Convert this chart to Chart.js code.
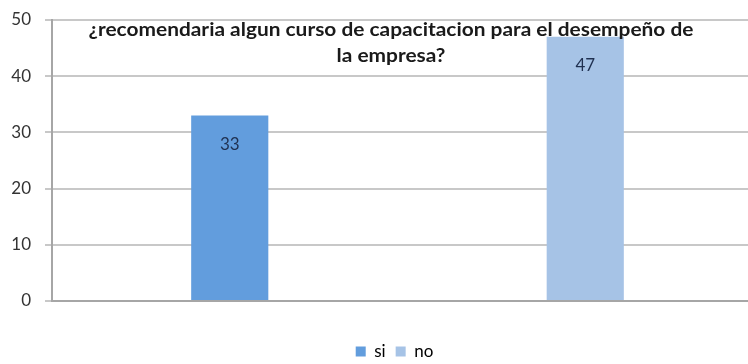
<!DOCTYPE html>
<html>
<head>
<meta charset="utf-8">
<script src="https://cdn.jsdelivr.net/npm/chart.js@4"></script>
<style>
  html, body { margin: 0; padding: 0; background: #fff; overflow: hidden; }
  #wrap { width: 763px; height: 364px; }
</style>
</head>
<body>
<div id="wrap"><canvas id="grafic"></canvas></div>
<script>
// date grafic
const categorii = ["si", "no"];
const valori = [33, 47];
const culori = ["#629ddd", "#a6c3e6"];
const titlu = ["¿recomendaria algun curso de capacitacion para el desempeño de", "la empresa?"];
const ticksY = [0, 10, 20, 30, 40, 50];

// titlul desenat peste zona graficului (usor latit, ca in imagine)
const titluPlugin = {
  id: "titluPeste",
  afterDraw(chart) {
    const ctx = chart.ctx;
    ctx.save();
    ctx.translate(391, 0);
    ctx.scale(1.16, 1);
    ctx.font = "bold 18px Lato, sans-serif";
    ctx.fillStyle = "#1a1a1a";
    ctx.textAlign = "center";
    ctx.textBaseline = "alphabetic";
    ctx.fillText(titlu[0], 0, 36);
    ctx.fillText(titlu[1], 0, 62);
    ctx.restore();
  }
};

// etichete valori in bare
const eticheta = {
  id: "etichete",
  afterDatasetsDraw(chart) {
    const ctx = chart.ctx;
    const meta = chart.getDatasetMeta(0);
    ctx.save();
    ctx.font = "17px Lato, sans-serif";
    ctx.fillStyle = "#1f3050";
    ctx.textAlign = "center";
    ctx.textBaseline = "middle";
    meta.data.forEach((bar, i) => {
      ctx.fillText(String(valori[i]), bar.x, bar.y + 29);
    });
    ctx.restore();
  }
};

// legenda mutata putin spre dreapta, ca in original
const mutaLegenda = {
  id: "mutaLegenda",
  afterLayout(chart) {
    chart.legend.left += 13;
    chart.legend.right += 13;
  }
};

new Chart(document.getElementById("grafic").getContext("2d"), {
  type: "bar",
  data: {
    labels: categorii,
    datasets: [{
      data: valori,
      backgroundColor: culori,
      borderWidth: 0,
      categoryPercentage: 1,
      barPercentage: 0.217
    }]
  },
  plugins: [eticheta, titluPlugin, mutaLegenda],
  options: {
    responsive: true,
    maintainAspectRatio: false,
    animation: false,
    layout: { padding: { left: 0, right: 0, top: 20, bottom: -6 } },
    plugins: {
      title: { display: false },
      tooltip: { enabled: false },
      legend: {
        position: "bottom",
        labels: {
          boxWidth: 10,
          boxHeight: 10,
          padding: 10,
          color: "#333",
          font: { size: 17, family: "Lato, sans-serif" },
          generateLabels: () => categorii.map((c, i) => ({
            text: c, fillStyle: culori[i], strokeStyle: culori[i], lineWidth: 0, index: i
          }))
        }
      }
    },
    scales: {
      x: {
        afterFit: (s) => { s.height = 32; },
        ticks: { display: false },
        grid: { display: false },
        border: { color: "#a6a6a6", width: 2 }
      },
      y: {
        min: 0,
        max: 50,
        afterFit: (s) => { s.width = 52; s.paddingTop = 0; s.paddingBottom = 0; },
        afterBuildTicks: (s) => { s.ticks = ticksY.map(v => ({ value: v })); },
        ticks: {
          padding: 14,
          color: "#333",
          font: { size: 17, family: "Lato, sans-serif" }
        },
        grid: { color: "#c8c8c8", lineWidth: 2, tickLength: 7 },
        border: { color: "#a6a6a6", width: 2 }
      }
    }
  }
});
</script>
</body>
</html>
